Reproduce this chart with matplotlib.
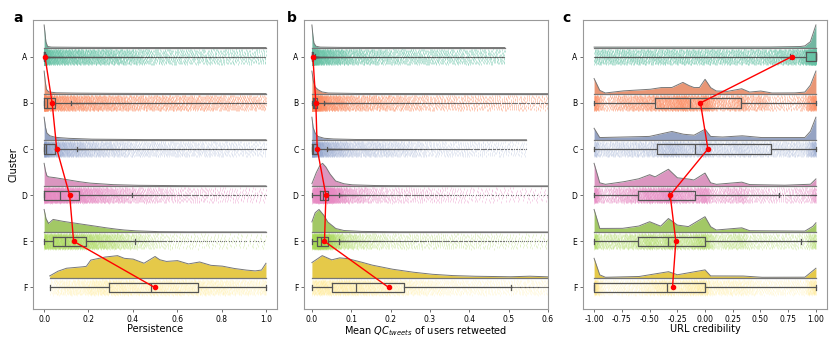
import numpy as np
import matplotlib
matplotlib.use('Agg')
import matplotlib.pyplot as plt
import seaborn as sns

clusters = ['A', 'B', 'C', 'D', 'E', 'F']

# ---- panel a : persistence (kde, peak = 1) ----
pers_kde_x = [
    [0, 0.003, 0.008, 0.015, 0.03, 0.1, 0.2, 0.35, 0.5, 1.0],
    [0, 0.004, 0.01, 0.02, 0.05, 0.1, 0.2, 0.4, 1.0],
    [0, 0.005, 0.012, 0.025, 0.05, 0.1, 0.2, 0.4, 1.0],
    [0, 0.005, 0.012, 0.02, 0.04, 0.07, 0.1, 0.15, 0.2, 0.3, 0.4, 0.6, 1.0],
    [0, 0.008, 0.02, 0.04, 0.07, 0.1, 0.15, 0.2, 0.25, 0.3, 0.35, 0.4, 0.45, 0.5, 0.6, 1.0],
    [0.025, 0.06, 0.1, 0.15, 0.19, 0.21, 0.27, 0.33, 0.36, 0.4, 0.45, 0.5, 0.52,
     0.55, 0.6, 0.65, 0.7, 0.75, 0.8, 0.85, 0.9, 0.95, 0.98, 1.0],
]
pers_kde_h = [
    [1.0, 0.7, 0.25, 0.05, 0.02, 0.012, 0.008, 0.005, 0.002, 0.001],
    [1.0, 0.6, 0.2, 0.08, 0.04, 0.03, 0.02, 0.01, 0.005],
    [1.0, 0.6, 0.3, 0.18, 0.11, 0.07, 0.03, 0.01, 0.003],
    [1.0, 0.7, 0.45, 0.4, 0.38, 0.33, 0.28, 0.2, 0.13, 0.06, 0.03, 0.01, 0.003],
    [1.0, 0.6, 0.38, 0.56, 0.5, 0.45, 0.38, 0.31, 0.23, 0.16, 0.1, 0.06, 0.04, 0.02, 0.008, 0.003],
    [0.1, 0.3, 0.44, 0.48, 0.52, 0.8, 0.93, 1.0, 0.88, 0.85, 0.66, 0.96, 0.82,
     0.74, 0.78, 0.63, 0.72, 0.57, 0.54, 0.44, 0.37, 0.32, 0.36, 0.66],
]
# whislo, q1, median, q3, whishi
pers_box = [
    [0, 0, 0, 0.004, 0.01],
    [0, 0, 0.012, 0.05, 0.12],
    [0, 0, 0.008, 0.048, 0.148],
    [0, 0, 0.07, 0.157, 0.396],
    [0, 0.04, 0.096, 0.19, 0.41],
    [0.025, 0.294, 0.483, 0.694, 1.0],
]
pers_mean = [0.004, 0.036, 0.057, 0.115, 0.133, 0.498]

# ---- panel b : mean QC of users retweeted ----
qc_kde_x = [
    [0, 0.002, 0.005, 0.01, 0.02, 0.05, 0.1, 0.2, 0.49],
    [0, 0.003, 0.008, 0.015, 0.025, 0.04, 0.1, 0.3, 0.7],
    [0, 0.003, 0.008, 0.015, 0.03, 0.05, 0.1, 0.3, 0.545],
    [0, 0.01, 0.02, 0.027, 0.035, 0.045, 0.06, 0.08, 0.1, 0.15, 0.2, 0.4, 0.7],
    [0, 0.008, 0.018, 0.03, 0.04, 0.06, 0.08, 0.12, 0.2, 0.6],
    [0, 0.026, 0.05, 0.07, 0.09, 0.12, 0.15, 0.2, 0.25, 0.3, 0.35, 0.4, 0.5, 0.55, 0.6, 0.7],
]
qc_kde_h = [
    [1.0, 0.6, 0.2, 0.06, 0.02, 0.01, 0.004, 0.002, 0.001],
    [1.0, 0.6, 0.3, 0.18, 0.08, 0.03, 0.01, 0.003, 0.001],
    [1.0, 0.55, 0.3, 0.15, 0.07, 0.04, 0.015, 0.003, 0.001],
    [0.1, 0.55, 0.9, 1.0, 0.85, 0.55, 0.22, 0.1, 0.05, 0.02, 0.01, 0.003, 0.001],
    [0.45, 0.85, 1.0, 0.75, 0.45, 0.16, 0.07, 0.03, 0.01, 0.002],
    [0.69, 1.0, 0.81, 0.9, 0.87, 0.74, 0.59, 0.41, 0.28, 0.18, 0.12, 0.09, 0.06, 0.09, 0.06, 0.04],
]
qc_box = [
    [0, 0, 0.001, 0.003, 0.008],
    [0, 0.002, 0.005, 0.014, 0.032],
    [0, 0.001, 0.004, 0.013, 0.038],
    [0, 0.0195, 0.027, 0.0407, 0.070],
    [0, 0.0127, 0.0237, 0.0407, 0.070],
    [0, 0.051, 0.111, 0.233, 0.507],
]
qc_mean = [0.0025, 0.01, 0.0135, 0.0356, 0.032, 0.195]

# ---- panel c : URL credibility ----
url_kde_x = [
    [-1, -0.5, 0, 0.5, 0.85, 0.9, 0.95, 0.98, 1.0],
    [-1, -0.95, -0.9, -0.75, -0.5, -0.4, -0.3, -0.2, -0.15, -0.1, -0.05, 0.0, 0.05,
     0.1, 0.2, 0.33, 0.4, 0.5, 0.6, 0.8, 0.9, 0.95, 1.0],
    [-1, -0.95, -0.75, -0.5, -0.3, -0.2, -0.1, 0.0, 0.05, 0.15, 0.33, 0.5, 0.9, 0.95, 1.0],
    [-1, -0.95, -0.9, -0.75, -0.6, -0.5, -0.45, -0.33, -0.25, -0.15, -0.1, 0.0, 0.05,
     0.1, 0.33, 0.4, 0.7, 0.95, 1.0],
    [-1, -0.95, -0.75, -0.6, -0.5, -0.4, -0.33, -0.25, -0.15, 0.0, 0.05, 0.1, 0.33,
     0.4, 0.9, 0.97, 1.0],
    [-1, -0.95, -0.9, -0.6, -0.33, -0.25, 0.0, 0.05, 0.33, 0.5, 0.9, 1.0],
]
url_kde_h = [
    [0.02, 0.02, 0.02, 0.02, 0.04, 0.07, 0.26, 0.7, 1.0],
    [0.67, 0.15, 0.03, 0.12, 0.19, 0.27, 0.27, 0.5, 0.37, 0.27, 0.27, 0.64, 0.27,
     0.12, 0.1, 0.22, 0.07, 0.12, 0.03, 0.03, 0.07, 0.37, 1.0],
    [0.51, 0.1, 0.12, 0.15, 0.37, 0.25, 0.2, 0.47, 0.15, 0.12, 0.18, 0.1, 0.1, 0.37, 1.0],
    [1.0, 0.14, 0.07, 0.17, 0.31, 0.5, 0.4, 0.74, 0.36, 0.31, 0.26, 0.57, 0.14,
     0.07, 0.17, 0.06, 0.03, 0.07, 0.31],
    [1.0, 0.16, 0.16, 0.26, 0.46, 0.26, 0.6, 0.31, 0.24, 0.68, 0.24, 0.09, 0.19,
     0.06, 0.04, 0.24, 0.41],
    [0.88, 0.15, 0.04, 0.07, 0.29, 0.15, 0.37, 0.1, 0.1, 0.04, 0.04, 0.44],
]
url_box = [
    [0.77, 0.907, 1.0, 1.0, 1.0],
    [-1, -0.453, -0.131, 0.329, 1.0],
    [-1, -0.429, -0.086, 0.597, 1.0],
    [-1, -0.603, -0.326, -0.092, 0.666],
    [-1, -0.603, -0.332, 0.0, 0.862],
    [-1, -1.0, -0.347, 0.0, 1.0],
]
url_mean = [0.78, -0.041, 0.026, -0.314, -0.263, -0.293]

# rain opacity per cluster (C, E, F look paler)
rain_alpha = [0.6, 0.6, 0.3, 0.55, 0.38, 0.15]

panels = [
    ('a', 'Persistence', pers_kde_x, pers_kde_h, pers_box, pers_mean, (-0.05, 1.05), [0, 0.2, 0.4, 0.6, 0.8, 1.0], '%.1f'),
    ('b', 'Mean $QC_{tweets}$ of users retweeted', qc_kde_x, qc_kde_h, qc_box, qc_mean, (-0.02, 0.6), [0, 0.1, 0.2, 0.3, 0.4, 0.5, 0.6], '%.1f'),
    ('c', 'URL credibility', url_kde_x, url_kde_h, url_box, url_mean, (-1.1, 1.1), [-1, -0.75, -0.5, -0.25, 0, 0.25, 0.5, 0.75, 1.0], '%.2f'),
]

pal = sns.color_palette('Set2', 6)
n_pts = 3000
idx = np.arange(n_pts)
# R2 low-discrepancy pairs: u -> quantile along x, v -> place in the rain band
g = 1.32471795724
u = (0.5 + idx / g) % 1.0
v = (0.5 + idx / g ** 2) % 1.0
jit = (v - 0.5) * 0.32

edge = '#555555'
fig = plt.figure(figsize=(8.3, 3.37), dpi=100)
lefts = [0.0398, 0.3663, 0.7024]
letter_x = [0.0157, 0.346, 0.677]

for k, (letter, xlabel, kx, kh, boxes, means, xlim, xt, fmt) in enumerate(panels):
    ax = fig.add_axes([lefts[k], 0.082, 0.294, 0.859])
    stats = []
    for i in range(6):
        xs = np.linspace(kx[i][0], kx[i][-1], 2000)
        hs = np.interp(xs, kx[i], kh[i])
        # rain: quantiles of the (flattened) read density
        cdf = np.cumsum(hs ** 0.7)
        cdf = cdf / cdf[-1]
        pts = np.interp(u, cdf, xs)
        ax.scatter(pts, i + jit, marker='|', s=4, linewidths=0.5,
                   color=pal[i], alpha=rain_alpha[i], zorder=1)
        # cloud
        base = i - 0.2
        fc = sns.desaturate(pal[i], 0.75)
        ax.fill_between(xs, base, base - hs * 0.49, color=fc, lw=0, zorder=2)
        ax.plot(xs, base - hs * 0.49, color='#777777', lw=0.7, zorder=2)
        ax.plot([xs[0], xs[-1]], [base, base], color='#777777', lw=0.9, zorder=2)
        wl, q1, md, q3, wh = boxes[i]
        fl = np.sort(pts[(pts < wl) | (pts > wh)])[::4]
        stats.append(dict(whislo=wl, q1=q1, med=md, q3=q3, whishi=wh, fliers=fl))
    ax.bxp(stats, positions=range(6), orientation='horizontal', widths=0.2,
           boxprops=dict(color=edge, lw=0.9), medianprops=dict(color=edge, lw=0.9),
           whiskerprops=dict(color=edge, lw=0.9), capprops=dict(color=edge, lw=0.9),
           flierprops=dict(marker='o', markersize=0.9, markerfacecolor=edge,
                           markeredgecolor='none', alpha=0.8),
           manage_ticks=False, zorder=3)
    ax.plot(means, range(6), color='red', lw=1.0, marker='o', ms=3, zorder=5)

    ax.set_xlim(*xlim)
    ax.set_ylim(5.476, -0.8)
    ax.set_yticks(range(6))
    ax.set_yticklabels(clusters)
    ax.set_xticks(xt)
    ax.set_xticklabels([fmt % v for v in xt])
    ax.tick_params(labelsize=5.5, length=2.5, width=0.6, color='#555555', pad=1.5)
    for s in ax.spines.values():
        s.set_color('#999999')
        s.set_linewidth(0.8)
    ax.set_xlabel(xlabel, fontsize=7, labelpad=0)
    if k == 0:
        ax.set_ylabel('Cluster', fontsize=7, labelpad=2)
    fig.text(letter_x[k], 0.935, letter, fontsize=10, fontweight='bold', va='baseline')

fig.savefig('out.png', dpi=100)
